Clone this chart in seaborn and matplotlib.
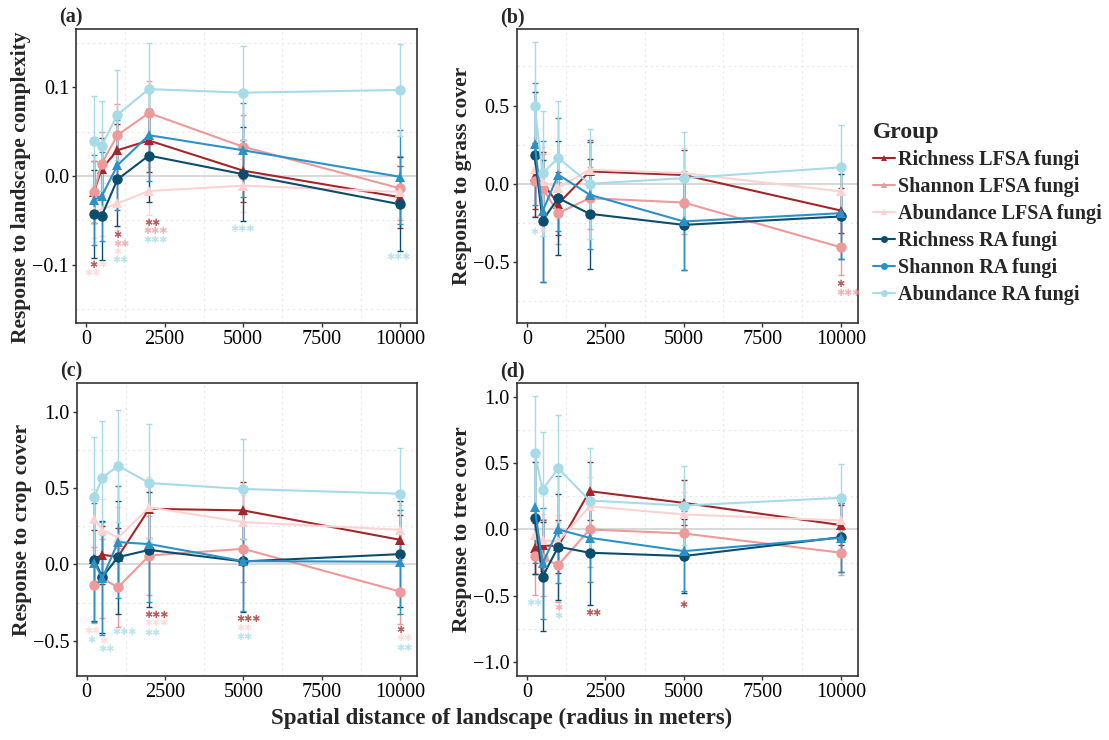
import numpy as np
import pandas as pd
import seaborn as sns
import matplotlib.pyplot as plt
from matplotlib.lines import Line2D
from matplotlib.ticker import FixedLocator, FuncFormatter

# groups, colours and marker shapes
groups = ['Richness LFSA fungi', 'Shannon LFSA fungi', 'Abundance LFSA fungi',
          'Richness RA fungi', 'Shannon RA fungi', 'Abundance RA fungi']
colors = ['#a3262a', '#ee9a9a', '#fcd3d3', '#0b4d6d', '#2b92c8', '#a7dbe8']
plot_markers = ['^', 'o', '^', 'o', '^', 'o']
legend_markers = ['^', '^', '^', 'o', 'o', 'o']
distance = [250, 500, 1000, 2000, 5000, 10000]

# (a) landscape complexity: mean and CI half width, one row per group
complexity_mean = [[-0.018, 0.008, 0.029, 0.040, 0.006, -0.024],
                   [-0.018, 0.014, 0.046, 0.071, 0.033, -0.014],
                   [-0.040, -0.038, -0.031, -0.017, -0.011, -0.018],
                   [-0.043, -0.045, -0.004, 0.023, 0.002, -0.032],
                   [-0.027, -0.023, 0.012, 0.046, 0.029, -0.001],
                   [0.039, 0.034, 0.069, 0.098, 0.094, 0.097]]
complexity_err = [[0.035, 0.035, 0.030, 0.035, 0.035, 0.035],
                  [0.035, 0.036, 0.035, 0.036, 0.036, 0.036],
                  [0.030, 0.030, 0.030, 0.027, 0.030, 0.030],
                  [0.050, 0.050, 0.052, 0.052, 0.053, 0.053],
                  [0.051, 0.050, 0.051, 0.052, 0.053, 0.053],
                  [0.051, 0.051, 0.051, 0.052, 0.053, 0.052]]

# (b) grass cover
grass_mean = [[0.051, 0.004, -0.128, 0.079, 0.056, -0.171],
              [0.015, -0.028, -0.188, -0.092, -0.120, -0.406],
              [0.094, 0.015, -0.025, 0.090, 0.068, -0.049],
              [0.186, -0.235, -0.092, -0.192, -0.263, -0.209],
              [0.256, -0.177, 0.058, -0.070, -0.241, -0.188],
              [0.500, 0.068, 0.165, 0.000, 0.036, 0.105]]
grass_err = [[0.21, 0.20, 0.20, 0.19, 0.16, 0.145],
             [0.22, 0.22, 0.20, 0.20, 0.20, 0.18],
             [0.20, 0.22, 0.20, 0.19, 0.16, 0.15],
             [0.40, 0.39, 0.363, 0.35, 0.29, 0.27],
             [0.39, 0.45, 0.36, 0.35, 0.31, 0.29],
             [0.406, 0.40, 0.363, 0.35, 0.293, 0.27]]

# (c) crop cover
crop_mean = [[0.035, 0.064, 0.050, 0.366, 0.355, 0.162],
             [-0.134, -0.090, -0.151, 0.059, 0.103, -0.178],
             [0.298, 0.228, 0.176, 0.375, 0.278, 0.228],
             [0.031, -0.083, 0.048, 0.096, 0.020, 0.068],
             [0.013, -0.092, 0.147, 0.134, 0.022, 0.018],
             [0.443, 0.568, 0.649, 0.535, 0.496, 0.465]]
crop_err = [[0.19, 0.19, 0.19, 0.19, 0.185, 0.16],
            [0.25, 0.26, 0.257, 0.26, 0.22, 0.21],
            [0.20, 0.20, 0.20, 0.20, 0.18, 0.16],
            [0.40, 0.37, 0.37, 0.377, 0.33, 0.35],
            [0.39, 0.37, 0.37, 0.38, 0.33, 0.34],
            [0.395, 0.377, 0.369, 0.39, 0.33, 0.30]]

# (d) tree cover
tree_mean = [[-0.143, -0.120, -0.125, 0.288, 0.200, 0.033],
             [-0.200, -0.213, -0.268, 0.000, -0.030, -0.175],
             [-0.043, -0.083, -0.090, 0.175, 0.113, 0.068],
             [0.088, -0.356, -0.130, -0.175, -0.200, -0.058],
             [0.170, -0.256, 0.000, -0.063, -0.163, -0.063],
             [0.576, 0.300, 0.459, 0.218, 0.180, 0.238]]
tree_err = [[0.19, 0.19, 0.20, 0.22, 0.17, 0.15],
            [0.29, 0.29, 0.28, 0.28, 0.20, 0.17],
            [0.20, 0.20, 0.20, 0.22, 0.17, 0.15],
            [0.42, 0.41, 0.40, 0.39, 0.276, 0.26],
            [0.42, 0.42, 0.40, 0.333, 0.30, 0.26],
            [0.426, 0.43, 0.40, 0.396, 0.296, 0.256]]

panel_tags = ['(a)', '(b)', '(c)', '(d)']
panel_ylabels = ['Response to landscape complexity', 'Response to grass cover',
                 'Response to crop cover', 'Response to tree cover']

# significance stars: panel index, group index, x, y, label
ann_panel = [0, 0, 0, 0, 0, 0, 0, 0, 0, 0, 0, 0,
             1, 1, 1, 1,
             2, 2, 2, 2, 2, 2, 2, 2, 2, 2, 2, 2, 2, 2,
             3, 3, 3, 3, 3]
ann_group = [0, 2, 2, 0, 1, 2, 5, 0, 1, 5, 5, 5,
             5, 2, 0, 1,
             2, 5, 2, 5, 5, 0, 2, 5, 0, 2, 5, 0, 2, 5,
             5, 1, 5, 0, 0]
ann_x = [233, 190, 510, 1000, 1137, 1000, 1094, 2115, 2220, 2220, 5000, 9946,
         232, 500, 10000, 10233,
         180, 150, 530, 637, 1210, 2220, 2220, 2091, 5180, 5053, 5053, 10000, 10137, 10137,
         233, 1000, 1000, 2112, 5000]
ann_y = [-0.101, -0.110, -0.101, -0.067, -0.077, -0.086, -0.095, -0.053, -0.062, -0.072, -0.060, -0.092,
         -0.31, -0.30, -0.641, -0.697,
         -0.436, -0.496, -0.502, -0.553, -0.445, -0.331, -0.386, -0.452, -0.36, -0.414, -0.474, -0.43, -0.485, -0.55,
         -0.551, -0.589, -0.654, -0.629, -0.566]
ann_label = ['*', '**', '*', '*', '**', '*', '**', '**', '***', '***', '***', '***',
             '*', '*', '*', '***',
             '**', '*', '*', '**', '***', '***', '***', '**', '***', '**', '**', '*', '**', '**',
             '**', '*', '*', '**', '*']

ylims = [(-0.166, 0.166), (-0.89, 0.99), (-0.73, 1.19), (-1.10, 1.10)]
yticks = [[-0.1, 0.0, 0.1], [-0.5, 0.0, 0.5], [-0.5, 0.0, 0.5, 1.0], [-1.0, -0.5, 0.0, 0.5, 1.0]]
yminor = [[-0.15, -0.05, 0.05, 0.15], [-0.75, -0.25, 0.25, 0.75],
          [-0.25, 0.25, 0.75], [-0.75, -0.25, 0.25, 0.75]]

means = [complexity_mean, grass_mean, crop_mean, tree_mean]
errs = [complexity_err, grass_err, crop_err, tree_err]

rows = []
for p in range(4):
    for g in range(6):
        for k, d in enumerate(distance):
            rows.append({'panel': p, 'group': groups[g], 'distance': d,
                         'value': means[p][g][k], 'err': errs[p][g][k]})
df = pd.DataFrame(rows)

sns.set_style('ticks')
plt.rcParams['font.family'] = ['Liberation Serif', 'DejaVu Sans']

fig = plt.figure(figsize=(11.09, 7.40), dpi=100)
boxes = [[0.0685, 0.5635, 0.3075, 0.3975], [0.466, 0.5635, 0.3075, 0.3975],
         [0.0690, 0.087, 0.3070, 0.395], [0.466, 0.087, 0.3075, 0.395]]

palette = dict(zip(groups, colors))
mk = dict(zip(groups, plot_markers))
fmt = FuncFormatter(lambda v, pos: f'{v:.1f}'.replace('-', '\u2212'))

for p in range(4):
    ax = fig.add_axes(boxes[p])
    sub = df[df['panel'] == p]
    ax.axhline(0, color='#d9d9d9', lw=1.5, zorder=1)
    for g, name in enumerate(groups):
        s = sub[sub['group'] == name]
        ax.errorbar(s['distance'], s['value'], yerr=s['err'], fmt='none',
                    ecolor=colors[g], elinewidth=1.0, capsize=2.5, capthick=1.0, zorder=2)
    sns.lineplot(data=sub, x='distance', y='value', hue='group', style='group',
                 hue_order=groups, style_order=groups, palette=palette, markers=mk,
                 dashes=False, markersize=7.5, markeredgewidth=0, linewidth=1.5,
                 legend=False, ax=ax, zorder=3)
    for i in range(len(ann_panel)):
        if ann_panel[i] != p:
            continue
        ax.text(ann_x[i], ann_y[i], ann_label[i].replace('*', '\u2731'),
                color=colors[ann_group[i]], alpha=0.75, fontsize=7,
                family='DejaVu Sans', ha='center', va='center', zorder=4)

    ax.set_xlim(-320, 10540)
    ax.set_ylim(*ylims[p])
    ax.set_xticks([0, 2500, 5000, 7500, 10000])
    ax.xaxis.set_minor_locator(FixedLocator([1250, 3750, 6250, 8750]))
    ax.set_yticks(yticks[p])
    ax.yaxis.set_minor_locator(FixedLocator(yminor[p]))
    ax.yaxis.set_major_formatter(fmt)
    ax.grid(which='minor', linestyle=(0, (2, 3)), color='#e8e8e8', linewidth=0.8)
    ax.grid(which='major', visible=False)
    ax.tick_params(which='major', length=3, width=1, color='#333333', pad=2,
                   labelsize=14.5, labelcolor='black')
    ax.tick_params(which='minor', length=0)
    for sp in ax.spines.values():
        sp.set_color('#333333')
        sp.set_linewidth(1.2)
    ax.set_xlabel('')
    ax.set_ylabel(panel_ylabels[p], fontsize=15.5, fontweight='bold', labelpad=1)
    if p == 0:
        ax.yaxis.label.set_y(0.46)
    fig.text(boxes[p][0] - 0.015, boxes[p][1] + boxes[p][3] + 0.002, panel_tags[p],
             fontsize=14.5, fontweight='bold', ha='left', va='bottom')

fig.text(502 / 1109, 1 - 718 / 740, 'Spatial distance of landscape (radius in meters)',
         fontsize=16.5, fontweight='bold', ha='center', va='center')

handles = [Line2D([], [], color=c, marker=m, markersize=5, linewidth=1.5, markeredgewidth=0)
           for c, m in zip(colors, legend_markers)]
leg = fig.legend(handles, groups, loc='upper left', bbox_to_anchor=(855 / 1109, 1 - 104 / 740),
                 frameon=False, title='Group', prop={'weight': 'bold', 'size': 14.5},
                 title_fontproperties={'weight': 'bold', 'size': 17},
                 handlelength=1.1, handletextpad=0.15, labelspacing=0.35, alignment='left')

fig.savefig('out.png', dpi=100)
